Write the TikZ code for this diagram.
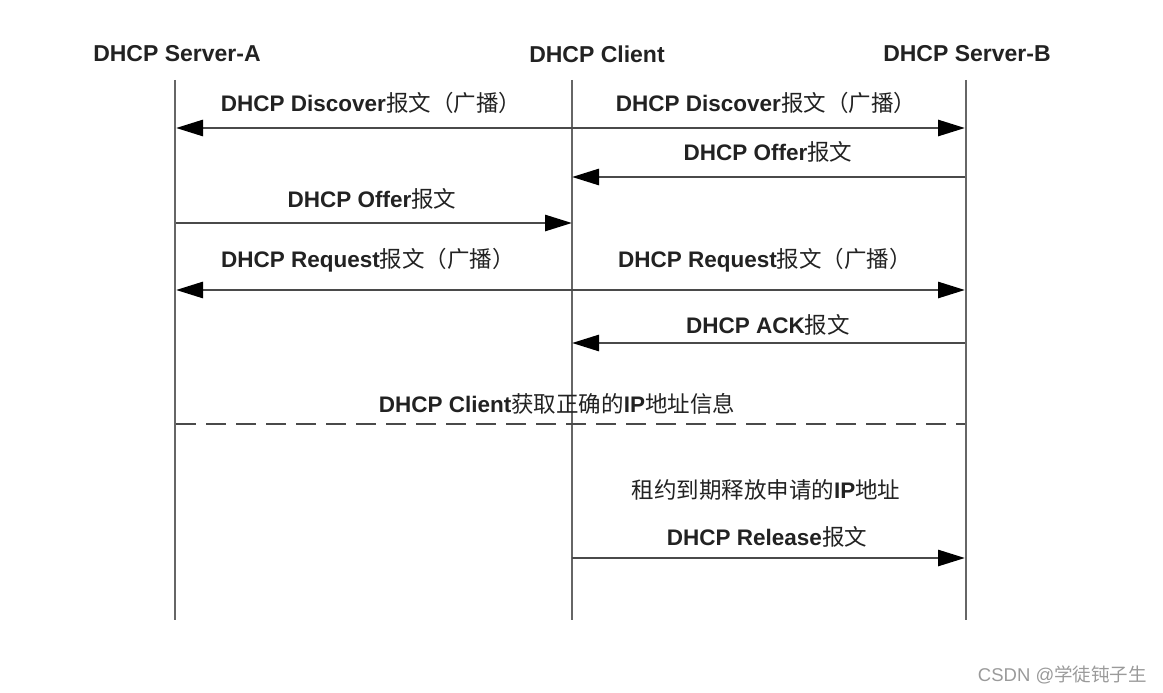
\documentclass[tikz,border=0pt]{standalone}
\usepackage{fontspec}
\setmainfont{Liberation Sans}
\newfontfamily\cjk{Noto Sans CJK SC}
\usetikzlibrary{arrows.meta}
\definecolor{lifegray}{HTML}{666666}
\definecolor{msggray}{HTML}{4A4A4A}
\definecolor{txt}{HTML}{222222}
\definecolor{wm}{HTML}{9A9A9A}
\tikzset{
  lifeline/.style={draw=lifegray, line width=2.6pt},
  msg/.style={draw=msggray, line width=2.8pt, -{Triangle[length=27pt,width=16pt,color=black]}},
  sep/.style={draw=msggray, line width=2.8pt, dash pattern=on 20pt off 10pt},
  head/.style={font=\fontsize{23}{26}\selectfont\bfseries, text=txt, inner sep=0pt},
  lbl/.style={font=\fontsize{22.5}{26}\selectfont\bfseries, text=txt, inner sep=0pt},
  wmark/.style={font=\fontsize{18.5}{21}\selectfont, text=wm, inner sep=0pt, anchor=east}
}
\newcommand{\zh}[1]{{\cjk\mdseries #1}}
\begin{document}
\begin{tikzpicture}[x=1pt,y=-1pt]
\useasboundingbox (0,0) rectangle (1163,693);
% headers
\node[head] (hA) at (177,54) {DHCP Server-A};
\node[head] (hC) at (597,54) {DHCP Client};
\node[head] (hB) at (967,54) {DHCP Server-B};
% lifelines
\coordinate (tA) at (175,80);  \coordinate (bA) at (175,620);
\coordinate (tC) at (572,80);  \coordinate (bC) at (572,620);
\coordinate (tB) at (966,80);  \coordinate (bB) at (966,620);
\draw[lifeline] (tA) -- (bA);
\draw[lifeline] (tC) -- (bC);
\draw[lifeline] (tB) -- (bB);
% message anchor points
\foreach \n/\y in {1/128,2/177,3/223,4/290,5/343,6/424,7/558}{
  \coordinate (A\n) at (176,\y);
  \coordinate (C\n) at (572,\y);
  \coordinate (B\n) at (965,\y);
}
% Discover (broadcast)
\node[lbl] (l1) at (371,103) {DHCP Discover\zh{报文（广播）}};
\draw[msg] (C1) -- (A1);
\node[lbl] (l2) at (766,103) {DHCP Discover\zh{报文（广播）}};
\draw[msg] (C1) -- (B1);
% Offer from B
\node[lbl] (l3) at (768,152) {DHCP Offer\zh{报文}};
\draw[msg] (B2) -- (C2);
% Offer from A
\node[lbl] (l4) at (372,199) {DHCP Offer\zh{报文}};
\draw[msg] (A3) -- (C3);
% Request (broadcast)
\node[lbl] (l5) at (368,260) {DHCP Request\zh{报文（广播）}};
\draw[msg] (C4) -- (A4);
\node[lbl] (l6) at (765,260) {DHCP Request\zh{报文（广播）}};
\draw[msg] (C4) -- (B4);
% ACK
\node[lbl] (l7) at (768,325) {DHCP ACK\zh{报文}};
\draw[msg] (B5) -- (C5);
% separator
\node[lbl] (l8) at (557,404) {DHCP Client\zh{获取正确的}IP\zh{地址信息}};
\draw[sep] (A6) -- (B6);
% release
\node[lbl] (l9) at (766,490) {\zh{租约到期释放申请的}IP\zh{地址}};
\node[lbl] (l10) at (767,537) {DHCP Release\zh{报文}};
\draw[msg] (C7) -- (B7);
% watermark
\node[wmark] (wm) at (1147,675) {CSDN @\zh{学徒钝子生}};
\end{tikzpicture}
\end{document}
